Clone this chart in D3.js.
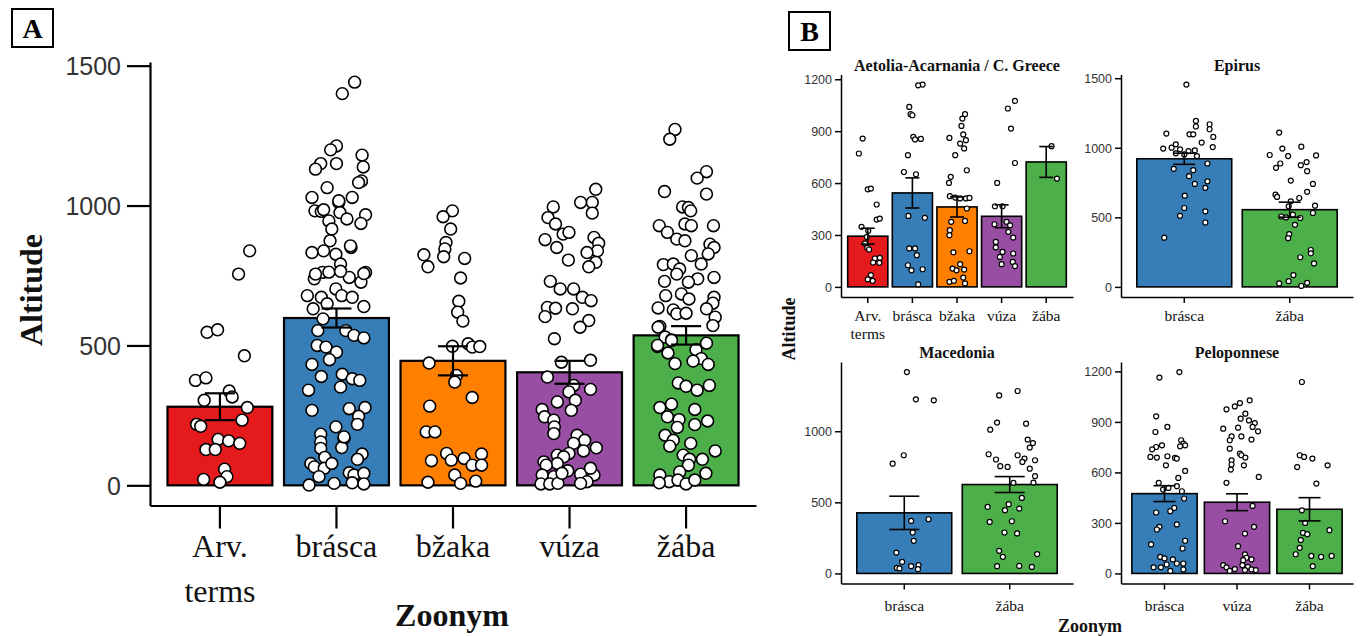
<!DOCTYPE html>
<html><head><meta charset="utf-8">
<script src="https://cdn.jsdelivr.net/npm/d3@7"></script>
<style>body{margin:0;background:#fff}svg{display:block}</style>
</head><body>
<svg id="chart" width="1360" height="636"></svg>
<script>
// ---------------- DATA ----------------
const zoonyms = ["Arv. terms","brásca","bžaka","vúza","žába"];
const zoonymColors = ["#E41A1C","#377EB8","#FF7F00","#984EA3","#4DAF4A"];

// Panel A (all regions)
const aMeans = [281, 598, 445, 404, 536];
const aSE    = [48, 34, 52, 41, 33];
const aTicks = [0, 500, 1000, 1500];
// points: [jitter (category units), altitude]
const aArv = [[0.255,838],[0.16,755],[-0.11,547],[-0.02,556],[0.21,463],[-0.21,375],[-0.12,384],[0.08,337],[0.105,316],[-0.135,304],[0.235,278],[0.19,233],[-0.2,218],[-0.165,211],[-0.015,164],[0.075,159],[0.17,150],[-0.12,128],[-0.04,128],[0.04,58],[0.06,31],[-0.14,21],[0,11]];
const aBrasca = [[0.156,1441],[0.05,1400],[0,1213],[-0.05,1199],[0.22,1180],[0,1150],[-0.135,1150],[-0.18,1130],[0.23,1138],[0.215,1088],[0.19,1082],[-0.08,1064],[0.135,1029],[-0.21,1029],[-0.185,981],[-0.13,979],[0.02,1011],[0.03,975],[0.09,952],[0.25,967],[0.21,936],[-0.065,945],[-0.04,916],[-0.055,874],[-0.21,832],[-0.11,838],[-0.005,826],[0.125,850],[0.035,791],[-0.12,761],[-0.19,738],[0.11,743],[0.25,761],[0.21,726],[-0.005,702],[-0.25,678],[-0.13,672],[0.045,678],[0.135,672],[-0.2,631],[-0.08,649],[0.235,639],[-0.115,595],[-0.16,553],[0.08,553],[0.15,536],[0.235,527],[-0.165,500],[-0.09,494],[0,476],[-0.06,449],[-0.21,432],[-0.13,389],[0.05,397],[0.135,381],[0.2,375],[0.035,351],[-0.24,340],[0.11,274],[0.245,278],[-0.21,268],[0.19,247],[0.18,218],[-0.005,209],[0.065,167],[-0.135,183],[-0.135,155],[-0.135,132],[0.045,135],[-0.1,100],[0.22,112],[0.18,93],[-0.22,78],[-0.19,66],[-0.105,61],[-0.04,78],[0.11,45],[0.15,37],[0.235,43],[-0.15,31],[0.135,9],[0.235,5],[-0.235,1],[-0.02,7],[-0.18,755],[-0.065,762],[0.035,765],[0.235,757],[0.12,856],[-0.11,985],[0.065,173],[0.02,1017]];
const aBzaka = [[-0.005,981],[-0.085,960],[-0.02,916],[-0.06,868],[-0.07,845],[-0.08,817],[-0.25,824],[-0.215,781],[0.1,811],[0.065,741],[0.05,658],[0.04,619],[0.085,587],[-0.005,497],[0.13,506],[0.165,494],[0.23,496],[-0.205,437],[0.03,393],[0.015,369],[0.165,314],[-0.2,283],[-0.23,191],[-0.155,191],[-0.185,88],[-0.055,114],[-0.015,90],[0.095,96],[0.165,72],[0.245,112],[0.245,72],[0.015,37],[-0.215,11],[0.065,7],[0.195,15]];
const aVuza = [[0.225,1058],[0.195,1011],[0.095,1011],[0.195,973],[-0.14,995],[-0.185,957],[-0.12,934],[-0.055,898],[-0.005,904],[-0.21,878],[-0.11,850],[0.21,886],[0.25,865],[0.24,838],[0.15,832],[0.225,797],[0.165,781],[-0.01,805],[-0.165,729],[-0.08,702],[0.035,702],[0.11,672],[0.185,660],[-0.19,636],[-0.12,633],[0.025,631],[-0.21,603],[0.165,589],[0.09,565],[-0.13,524],[0.18,447],[-0.07,440],[-0.19,387],[0.035,357],[0.18,343],[-0.005,334],[0.05,304],[-0.105,298],[0.015,268],[-0.235,271],[-0.215,245],[-0.135,233],[-0.13,209],[-0.135,185],[0.065,179],[0.13,161],[0.035,150],[0.23,134],[0.12,123],[-0.005,114],[-0.105,108],[-0.05,102],[-0.22,84],[-0.105,78],[-0.2,72],[-0.015,52],[0.095,40],[0.21,37],[-0.235,37],[-0.135,31],[0.15,13],[0.095,7],[-0.245,5],[-0.17,5],[-0.1,7],[-0.065,43],[0.18,61]];
const aZaba = [[-0.095,1272],[-0.14,1237],[0.175,1121],[0.095,1098],[-0.185,1050],[0.175,1041],[-0.03,995],[0.02,993],[0.04,981],[-0.23,928],[-0.01,934],[0.045,928],[0.235,928],[-0.16,904],[-0.08,880],[-0.01,874],[0.205,862],[0.24,850],[0.045,821],[0.19,827],[0.13,791],[-0.195,789],[-0.11,791],[-0.055,773],[-0.08,755],[0.1,738],[0.02,726],[-0.185,729],[0.24,743],[-0.175,678],[-0.04,684],[0.025,666],[0.24,672],[0.23,651],[-0.24,634],[-0.11,627],[0.175,631],[-0.08,613],[0,615],[0.25,601],[0.23,571],[-0.225,568],[-0.18,530],[-0.125,520],[-0.245,496],[0.175,508],[-0.155,473],[0.085,485],[0.13,453],[0.06,444],[0.19,432],[-0.095,435],[-0.067,366],[0,354],[0.095,340],[0.2,357],[-0.225,278],[-0.125,290],[-0.16,245],[-0.06,235],[-0.075,207],[0.075,271],[0.075,217],[0.185,230],[-0.18,179],[-0.11,161],[-0.14,140],[0.04,150],[0.25,123],[-0.025,108],[0.03,93],[0.14,93],[0.02,72],[-0.225,37],[-0.145,13],[-0.055,48],[-0.07,19],[0,5],[0.075,19],[0.17,43],[-0.23,9],[-0.24,565],[-0.245,500],[-0.125,518]];

// Panel B facets
const aetoliaCats  = ["Arv. terms","brásca","bžaka","vúza","žába"];
const aetoliaMeans = [293, 543, 462, 408, 722];
const aetoliaSE    = [46, 87, 58, 66, 89];
const aetoliaTicks = [0, 300, 600, 900, 1200];
const aetoliaArv = [[-0.115,857],[-0.2,771],[0,564],[0.07,568],[0.2,476],[0.2,389],[0.27,395],[-0.14,347],[0.01,324],[-0.02,289],[-0.06,251],[-0.01,225],[0.03,216],[0.16,164],[0.27,168],[0.12,141],[0.26,139],[0.07,68],[0,43],[0.11,35]];
const aetoliaBrasca = [[0.23,1169],[0.13,1165],[-0.07,1040],[-0.04,998],[0,992],[0.02,867],[0.06,852],[0.19,855],[-0.1,761],[-0.19,664],[0.08,651],[-0.09,410],[0.28,399],[-0.07,222],[0.06,222],[0.1,183],[-0.1,125],[-0.02,96],[0.23,102],[0.13,14]];
const aetoliaBzaka = [[0.18,998],[0.12,973],[0.1,930],[0.14,881],[-0.17,861],[0.2,848],[0.07,828],[0.16,800],[-0.04,761],[0.22,674],[-0.14,636],[-0.18,601],[-0.16,524],[-0.04,516],[0.07,511],[0.2,511],[0.28,514],[0.22,453],[-0.13,376],[0.18,381],[-0.16,328],[-0.17,299],[-0.08,200],[0.28,206],[0.07,131],[-0.1,106],[-0.01,96],[0.16,100],[0.14,54],[-0.17,29],[-0.07,35],[0.18,20]];
const aetoliaVuza = [[0.3,1075],[0.14,1031],[0.21,915],[0.3,716],[-0.1,601],[-0.15,466],[0.02,466],[-0.16,362],[0.11,376],[0.19,356],[0.15,318],[0.26,285],[-0.13,260],[-0.13,228],[0.02,202],[0.26,193],[-0.04,173],[0,131],[0.25,144],[0.3,120]];
const aetoliaZaba = [[0.12,813],[0.24,626]];

const epirusCats  = ["brásca","žába"];
const epirusMeans = [921, 555];
const epirusSE    = [40, 54];
const epirusTicks = [0, 500, 1000, 1500];
const epirusBrasca = [[0.02,1454],[0.11,1193],[0.11,1153],[0.24,1169],[0.24,1133],[-0.17,1102],[0.05,1097],[0.085,1097],[0.275,1078],[0.165,1037],[-0.08,1025],[-0.12,1001],[-0.2,994],[0.27,1005],[-0.04,989],[0.04,976],[0.1,981],[-0.08,960],[0,952],[0.12,940],[0.22,887],[-0.1,849],[0.085,839],[0.045,796],[0.22,759],[0.1,740],[0.2,712],[0.005,656],[0,567],[0.2,543],[-0.04,511],[0.2,463],[-0.19,354]];
const epirusZaba = [[-0.1,1109],[-0.07,994],[-0.19,948],[-0.015,940],[0.11,1008],[0.25,945],[-0.09,887],[-0.13,856],[0.16,897],[0.105,875],[0.165,832],[0.01,764],[0.22,740],[0.165,683],[-0.135,663],[-0.12,647],[0.09,639],[0.01,615],[-0.01,579],[0.24,584],[-0.08,506],[-0.035,499],[0.03,519],[0.1,495],[0.22,531],[0.05,446],[-0.005,379],[-0.015,350],[0.2,265],[0.2,241],[0.1,213],[0.23,169],[0.035,85],[-0.01,41],[-0.1,25],[0.165,29],[0.11,7]];

const macedoniaCats  = ["brásca","žába"];
const macedoniaMeans = [426, 625];
const macedoniaSE    = [117, 56];
const macedoniaTicks = [0, 500, 1000];
const macedoniaBrasca = [[0.025,1416],[0.11,1224],[0.28,1217],[-0.005,831],[-0.11,772],[0.065,369],[0.23,381],[0.08,288],[0.09,229],[-0.075,147],[-0.02,81],[-0.07,39],[0.065,51],[0.135,58],[0.13,30],[-0.045,35]];
const macedoniaZaba = [[0.075,1283],[-0.1,1252],[-0.12,1061],[0.155,1053],[-0.185,1011],[0.17,941],[0.22,917],[0.19,885],[-0.2,838],[0.075,831],[-0.13,801],[0.14,808],[0.24,796],[0.12,784],[-0.09,754],[-0.02,749],[0.19,737],[0.24,684],[0.225,639],[0.035,637],[0.115,531],[-0.21,468],[-0.01,487],[-0.045,445],[0.09,456],[-0.19,362],[0.02,367],[-0.05,288],[0.07,281],[-0.1,159],[-0.065,117],[0.26,136],[-0.12,51],[0.09,53],[0.21,46]];

const peloponneseCats  = ["brásca","vúza","žába"];
const peloponneseMeans = [474, 423, 381];
const peloponneseSE    = [47, 50, 69];
const peloponneseTicks = [0, 300, 600, 900, 1200];
const peloponneseBrasca = [[0.205,1196],[-0.07,1163],[-0.115,933],[0.04,870],[-0.125,840],[0.23,791],[-0.035,761],[-0.115,751],[-0.17,737],[0.26,771],[0.285,761],[0.215,755],[-0.195,692],[-0.105,688],[0.04,696],[0.145,686],[0.17,682],[0.02,642],[0.285,609],[0.19,567],[-0.08,538],[-0.02,498],[0.055,508],[0.17,518],[0.24,488],[0.27,445],[-0.115,362],[0.08,370],[0.135,389],[-0.07,277],[-0.105,261],[0.17,291],[0.285,194],[-0.185,172],[0.25,148],[-0.06,98],[0,89],[0.115,83],[-0.15,36],[-0.05,36],[0.03,53],[0.17,59],[0.26,59],[0.08,15],[0.26,24]];
const peloponneseVuza = [[0.175,1028],[0.04,1012],[-0.03,992],[-0.145,975],[0.115,949],[0.05,919],[0.165,909],[0.245,893],[0.015,866],[-0.19,860],[0.215,870],[0.29,844],[-0.075,814],[0.06,814],[-0.1,791],[0.2,795],[-0.1,741],[0.04,712],[0.06,702],[-0.075,672],[-0.075,647],[0.095,642],[-0.085,617],[0.115,688],[0.3,573],[-0.145,538],[0.215,401],[-0.165,310],[0.235,277],[0.11,237],[0.015,162],[0.11,113],[0.13,93],[0.2,83],[0.085,79],[-0.19,49],[-0.145,36],[-0.03,26],[-0.1,15],[0.075,49],[0.15,39],[0.2,24],[0.26,20],[0.11,20]];
const peloponneseZaba = [[-0.105,1137],[-0.135,702],[-0.075,692],[0.04,682],[0.25,642],[-0.17,632],[0.095,534],[-0.105,375],[-0.06,300],[-0.09,241],[-0.03,233],[0.275,257],[-0.12,198],[-0.135,152],[-0.19,114],[0.025,104],[0.16,98],[0.305,104],[0.045,43]];

// ---------------- RENDER ----------------
const SERIF = "'Liberation Serif','Times New Roman',serif";
const SANS  = "'Liberation Sans',Arial,sans-serif";
const colorOf = d3.scaleOrdinal().domain(zoonyms).range(zoonymColors);
const svg = d3.select("#chart");

function drawPanel(cfg) {
  const g = svg.append("g");
  const x = d3.scaleBand().domain(cfg.cats).range([cfg.x0, cfg.x1]).paddingInner(0.1).paddingOuter(0.15);
  const allV = cfg.points.flat().map(p => p[1]).concat(cfg.means.map((m, i) => m + cfg.se[i]));
  const maxV = d3.max(allV);
  const y = d3.scaleLinear().domain([-0.05 * maxV, 1.05 * maxV]).range([cfg.yBottom, cfg.yTop]);
  const step = x.step();
  const cx = c => x(c) + x.bandwidth() / 2;

  // bars
  g.selectAll("rect.bar").data(cfg.cats).join("rect")
    .attr("x", c => x(c)).attr("width", x.bandwidth())
    .attr("y", (c, i) => y(cfg.means[i]))
    .attr("height", (c, i) => y(0) - y(cfg.means[i]))
    .attr("fill", c => colorOf(c)).attr("stroke", "#000").attr("stroke-width", cfg.barStroke);

  // points
  cfg.cats.forEach((c, i) => {
    g.append("g").selectAll("circle").data(cfg.points[i]).join("circle")
      .attr("cx", p => cx(c) + p[0] * step)
      .attr("cy", p => y(p[1]))
      .attr("r", cfg.r).attr("fill", "#fff").attr("stroke", "#000").attr("stroke-width", cfg.ptStroke);
  });

  // error bars
  cfg.cats.forEach((c, i) => {
    const lo = y(cfg.means[i] - cfg.se[i]), hi = y(cfg.means[i] + cfg.se[i]);
    const xc = cx(c), hw = cfg.capHalf;
    const eg = g.append("g").attr("stroke", "#000").attr("stroke-width", cfg.errStroke);
    eg.append("line").attr("x1", xc).attr("x2", xc).attr("y1", lo).attr("y2", hi);
    eg.append("line").attr("x1", xc - hw).attr("x2", xc + hw).attr("y1", lo).attr("y2", lo);
    eg.append("line").attr("x1", xc - hw).attr("x2", xc + hw).attr("y1", hi).attr("y2", hi);
  });

  // y axis
  const ya = g.append("g").attr("transform", `translate(${cfg.x0},0)`)
    .call(d3.axisLeft(y).tickValues(cfg.yTicks).tickFormat(d3.format("d"))
      .tickSize(cfg.tick).tickSizeOuter(0).tickPadding(cfg.yPad));
  ya.select(".domain").attr("stroke", "#000").attr("stroke-width", cfg.axStroke);
  ya.selectAll(".tick line").attr("stroke", "#000").attr("stroke-width", cfg.axStroke);
  ya.selectAll(".tick text").attr("font-family", SANS).attr("font-size", cfg.yFont).attr("fill", "#333").attr("dy", "0.36em");

  // x axis
  const xa = g.append("g").attr("transform", `translate(0,${cfg.yBottom})`)
    .call(d3.axisBottom(x).tickSize(cfg.tick).tickSizeOuter(0));
  xa.select(".domain").attr("stroke", "#000").attr("stroke-width", cfg.axStroke);
  xa.selectAll(".tick line").attr("stroke", "#000").attr("stroke-width", cfg.axStroke);
  xa.selectAll(".tick text").remove();
  xa.selectAll(".tick").each(function(c) {
    const t = d3.select(this).append("text").attr("text-anchor", "middle")
      .attr("font-family", SERIF).attr("font-size", cfg.xFont).attr("fill", "#111");
    c.split(" ").forEach((w, k) => {
      t.append("tspan").attr("x", 0).attr("y", cfg.xLab + k * cfg.xLine).text(w);
    });
  });

  if (cfg.title) {
    g.append("text").attr("x", (cfg.x0 + cfg.x1) / 2).attr("y", cfg.titleY)
      .attr("text-anchor", "middle").attr("font-family", SERIF).attr("font-weight", "bold")
      .attr("font-size", 16).attr("fill", "#111").text(cfg.title);
  }
}

// Panel A
drawPanel({
  cats: zoonyms, means: aMeans, se: aSE, points: [aArv, aBrasca, aBzaka, aVuza, aZaba], yTicks: aTicks,
  x0: 150, x1: 756, yTop: 62, yBottom: 505.5,
  barStroke: 2.2, r: 5.9, ptStroke: 1.6, errStroke: 2.2, capHalf: 15, axStroke: 2.2,
  tick: 23, yPad: 6, yFont: 25, xFont: 32, xLab: 51, xLine: 45
});

// Panel B facets
const bCommon = { barStroke: 1.6, r: 2.5, ptStroke: 1.2, errStroke: 1.6, axStroke: 1.5, tick: 6, yPad: 3, yFont: 12.5, xFont: 15.5, xLine: 18 };
drawPanel(Object.assign({}, bCommon, {
  cats: aetoliaCats, means: aetoliaMeans, se: aetoliaSE, points: [aetoliaArv, aetoliaBrasca, aetoliaBzaka, aetoliaVuza, aetoliaZaba],
  yTicks: aetoliaTicks, x0: 841, x1: 1073, yTop: 74.5, yBottom: 297, capHalf: 7, xLab: 24, title: "Aetolia-Acarnania / C. Greece", titleY: 71
}));
drawPanel(Object.assign({}, bCommon, {
  cats: epirusCats, means: epirusMeans, se: epirusSE, points: [epirusBrasca, epirusZaba],
  yTicks: epirusTicks, x0: 1121, x1: 1353, yTop: 74.5, yBottom: 297, capHalf: 11, xLab: 24, title: "Epirus", titleY: 71
}));
drawPanel(Object.assign({}, bCommon, {
  cats: macedoniaCats, means: macedoniaMeans, se: macedoniaSE, points: [macedoniaBrasca, macedoniaZaba],
  yTicks: macedoniaTicks, x0: 841, x1: 1073, yTop: 362, yBottom: 583.5, capHalf: 15, xLab: 27, title: "Macedonia", titleY: 358
}));
drawPanel(Object.assign({}, bCommon, {
  cats: peloponneseCats, means: peloponneseMeans, se: peloponneseSE, points: [peloponneseBrasca, peloponneseVuza, peloponneseZaba],
  yTicks: peloponneseTicks, x0: 1121, x1: 1353, yTop: 362, yBottom: 583.5, capHalf: 11, xLab: 27, title: "Peloponnese", titleY: 358
}));

// Axis titles
svg.append("text").attr("transform", "translate(42,290) rotate(-90)").attr("text-anchor", "middle")
  .attr("font-family", SERIF).attr("font-weight", "bold").attr("font-size", 32).attr("fill", "#111").text("Altitude");
svg.append("text").attr("x", 452).attr("y", 626).attr("text-anchor", "middle")
  .attr("font-family", SERIF).attr("font-weight", "bold").attr("font-size", 32).attr("fill", "#111").text("Zoonym");
svg.append("text").attr("transform", "translate(795,329) rotate(-90)").attr("text-anchor", "middle")
  .attr("font-family", SERIF).attr("font-weight", "bold").attr("font-size", 18).attr("fill", "#111").text("Altitude");
svg.append("text").attr("x", 1090).attr("y", 632).attr("text-anchor", "middle")
  .attr("font-family", SERIF).attr("font-weight", "bold").attr("font-size", 18).attr("fill", "#111").text("Zoonym");

// Panel labels
[["A", 12, 9], ["B", 789, 12]].forEach(([lab, bx, by]) => {
  svg.append("rect").attr("x", bx).attr("y", by).attr("width", 41).attr("height", 38)
    .attr("fill", "#fff").attr("stroke", "#000").attr("stroke-width", 2);
  svg.append("text").attr("x", bx + 20.5).attr("y", by + 29).attr("text-anchor", "middle")
    .attr("font-family", SERIF).attr("font-weight", "bold").attr("font-size", 28).attr("fill", "#000").text(lab);
});
</script>
</body></html>
